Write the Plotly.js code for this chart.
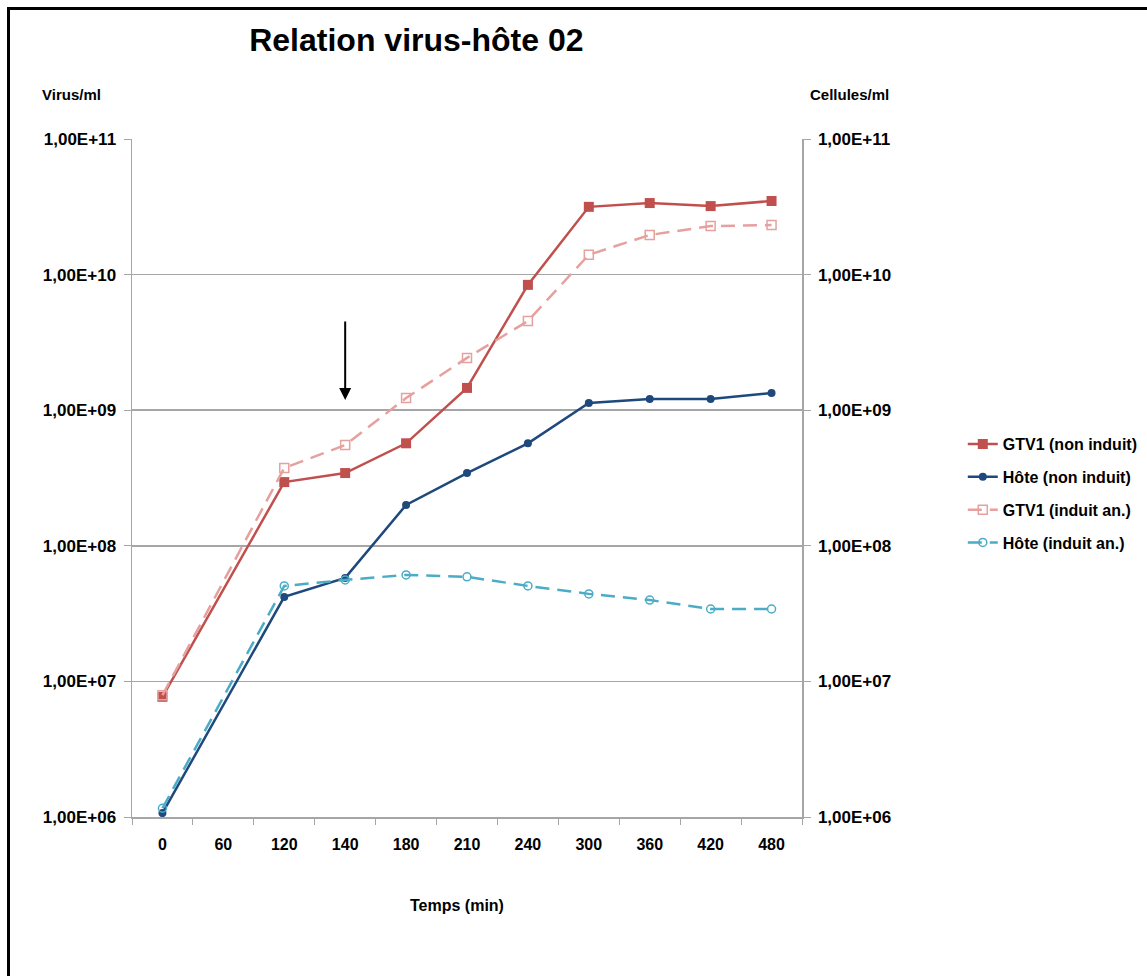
<!DOCTYPE html>
<html>
<head>
<meta charset="utf-8">
<script src="https://cdn.plot.ly/plotly-3.0.1.min.js"></script>
<style>
  html, body { margin: 0; padding: 0; background: #fff; }
  #wrap { position: relative; width: 1147px; height: 976px; }
  #chart { position: absolute; left: 0; top: 0; width: 1147px; height: 976px; }
  #frame { position: absolute; left: 7px; top: 7px; width: 1200px; height: 1200px;
           border-left: 3px solid #000; border-top: 3px solid #000; pointer-events: none; }
</style>
</head>
<body>
<div id="wrap">
  <div id="chart"></div>
  <div id="frame"></div>
</div>
<script>
// Categories (time in minutes) and tick labels
const categories = ['0', '60', '120', '140', '180', '210', '240', '300', '360', '420', '480'];
const yTickVals = [1e6, 1e7, 1e8, 1e9, 1e10, 1e11];
const yTickText = ['1,00E+06', '1,00E+07', '1,00E+08', '1,00E+09', '1,00E+10', '1,00E+11'];

// Series values (null = no measurement at 60 min)
const gtv1NonInduit = [7.7e6, null, 2.95e8, 3.44e8, 5.7e8, 1.46e9, 8.4e9, 3.16e10, 3.37e10, 3.2e10, 3.49e10];
const hoteNonInduit = [1.07e6, null, 4.2e7, 5.8e7, 2.0e8, 3.44e8, 5.7e8, 1.13e9, 1.21e9, 1.21e9, 1.34e9];
const gtv1InduitAn  = [7.9e6, null, 3.75e8, 5.53e8, 1.23e9, 2.43e9, 4.55e9, 1.40e10, 1.96e10, 2.28e10, 2.32e10];
const hoteInduitAn  = [1.16e6, null, 5.06e7, 5.6e7, 6.1e7, 5.9e7, 5.06e7, 4.42e7, 3.98e7, 3.42e7, 3.42e7];

// Arrow marker (induction point)
const arrowCategory = '140';
const arrowValue = 1.19e9;

const FONT = 'Liberation Sans, Arial, sans-serif';
const GRID = '#a6a6a6';

const traces = [
  { name: 'GTV1 (non induit)', x: categories, y: gtv1NonInduit, yaxis: 'y',
    mode: 'lines+markers', connectgaps: true, legendgroup: 'a',
    line: { color: '#C0504D', width: 2.5 },
    marker: { symbol: 'square', size: 10, color: '#C0504D' } },
  { name: 'Hôte (non induit)', x: categories, y: hoteNonInduit, yaxis: 'y2',
    mode: 'lines+markers', connectgaps: true, legendgroup: 'b',
    line: { color: '#1F497D', width: 2.5 },
    marker: { symbol: 'circle', size: 8, color: '#1F497D' } },
  { name: 'GTV1 (induit an.)', x: categories, y: gtv1InduitAn, yaxis: 'y',
    mode: 'lines+markers', connectgaps: true, legendgroup: 'c',
    line: { color: '#E6A09E', width: 2.5, dash: '14px,8px' },
    marker: { symbol: 'square-open', size: 9, color: '#E6A09E', line: { width: 1.5 } } },
  { name: 'Hôte (induit an.)', x: categories, y: hoteInduitAn, yaxis: 'y2',
    mode: 'lines+markers', connectgaps: true, legendgroup: 'd',
    line: { color: '#4BACC6', width: 2.5, dash: '14px,8px' },
    marker: { symbol: 'circle-open', size: 8, color: '#4BACC6', line: { width: 1.5 } } }
];

const yAxisBase = {
  type: 'log', range: [6, 11], tickvals: yTickVals, ticktext: yTickText,
  ticks: 'outside', ticklen: 7, tickcolor: GRID, showline: true, linecolor: GRID, linewidth: 1.5,
  zeroline: false, fixedrange: true, ticklabelstandoff: 4, automargin: false,
  tickfont: { family: FONT, size: 17, color: '#000', weight: 'bold' }
};

const layout = {
  width: 1147, height: 976,
  margin: { l: 132, r: 345, t: 139, b: 159, autoexpand: false },
  paper_bgcolor: '#fff', plot_bgcolor: '#fff',
  showlegend: true,
  title: { text: 'Relation virus-hôte 02', x: 0.363, xanchor: 'center', y: 0.959, yanchor: 'middle',
           font: { family: FONT, size: 32, color: '#000', weight: 'bold' } },
  xaxis: {
    type: 'category', categoryorder: 'array', categoryarray: categories,
    range: [-0.5, categories.length - 0.5], tickangle: 0, ticklabelstandoff: 12, automargin: false,
    tickson: 'boundaries', ticks: 'outside', ticklen: 6, tickcolor: GRID,
    showline: true, linecolor: GRID, linewidth: 1.5, showgrid: false, zeroline: false,
    tickfont: { family: FONT, size: 16, color: '#000', weight: 'bold' }
  },
  yaxis: Object.assign({}, yAxisBase, { side: 'left', showgrid: true, gridcolor: GRID, gridwidth: 1.5 }),
  yaxis2: Object.assign({}, yAxisBase, { side: 'right', overlaying: 'y', showgrid: false }),
  legend: {
    x: 1.24, xanchor: 'left', y: 0.575, yanchor: 'top',
    font: { family: FONT, size: 16, color: '#000', weight: 'bold' },
    traceorder: 'grouped', tracegroupgap: 9, bgcolor: 'rgba(0,0,0,0)'
  },
  annotations: [
    { text: 'Virus/ml', xref: 'paper', yref: 'paper', x: -0.0896, y: 1.065, showarrow: false,
      xanchor: 'center', yanchor: 'middle', font: { family: FONT, size: 15, color: '#000', weight: 'bold' } },
    { text: 'Cellules/ml', xref: 'paper', yref: 'paper', x: 1.0716, y: 1.065, showarrow: false,
      xanchor: 'center', yanchor: 'middle', font: { family: FONT, size: 15, color: '#000', weight: 'bold' } },
    { text: 'Temps (min)', xref: 'paper', yref: 'paper', x: 0.485, y: -0.13, showarrow: false,
      xanchor: 'center', yanchor: 'middle', font: { family: FONT, size: 16, color: '#000', weight: 'bold' } },
    { text: '', xref: 'x', yref: 'y', x: categories.indexOf(arrowCategory), y: Math.log10(arrowValue),
      showarrow: true, ax: 0, ay: -80, arrowhead: 2, arrowsize: 1.2, arrowwidth: 2, arrowcolor: '#000' }
  ]
};

Plotly.newPlot('chart', traces, layout, { displayModeBar: false, staticPlot: true });
</script>
</body>
</html>
